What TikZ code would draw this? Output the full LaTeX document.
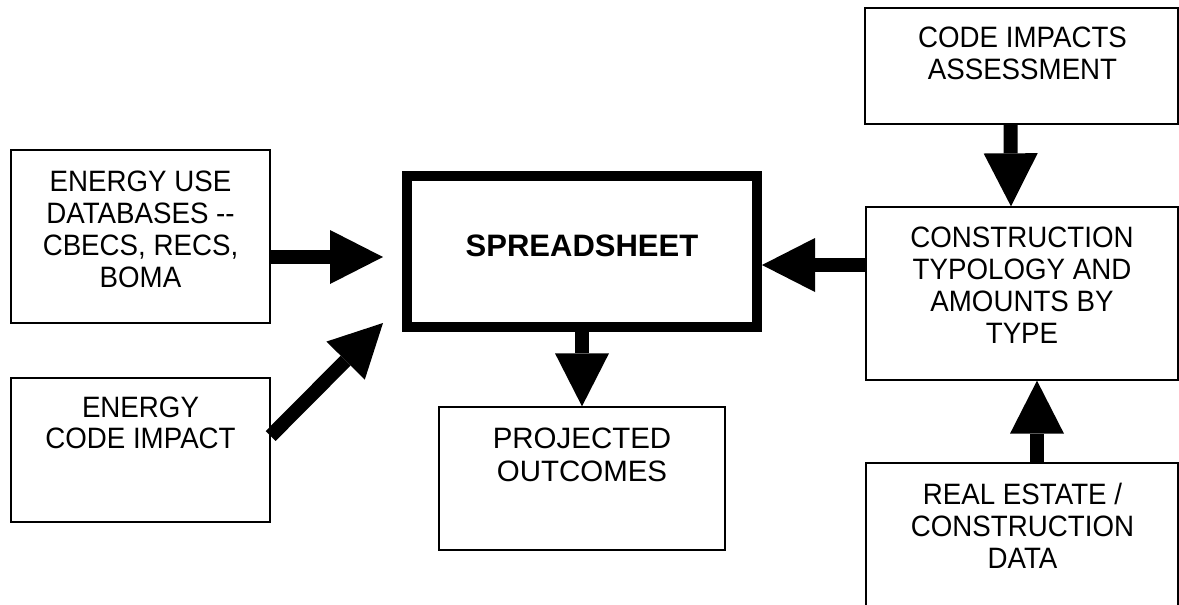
\documentclass[tikz,border=0pt]{standalone}
\usepackage{fontspec}
\setmainfont{Liberation Sans}
\newfontfamily\condfont[FakeStretch=0.94]{Liberation Sans}
\usetikzlibrary{arrows.meta,calc}
\begin{document}
\begin{tikzpicture}[x=0.75pt,y=-0.75pt,
  box/.style={draw, line width=1pt, rectangle, inner sep=0pt},
  txt/.style={anchor=north, inner sep=0pt, align=center, font=\condfont\fontsize{22.1}{24}\selectfont},
  fat/.style={line width=10.5pt, -{Triangle[length=39.75pt,width=40.5pt,line width=0pt]}}]
\path[use as bounding box, fill=white] (0,0) rectangle (1179,604);

% boxes
\node[box, minimum width=259*0.75pt, minimum height=173*0.75pt] (eu) at (140.5,236.5) {};
\node[txt] (eut) at (140.5,170.5) {ENERGY USE\\DATABASES -{}-\\CBECS, RECS,\\BOMA};

\node[box, minimum width=259*0.75pt, minimum height=144*0.75pt] (ec) at (140.5,450) {};
\node[txt, font=\condfont\fontsize{22.1}{23.3}\selectfont] (ect) at (140.5,396.5) {ENERGY\\CODE IMPACT};

\node[box, line width=7.5pt, minimum width=350*0.75pt, minimum height=151*0.75pt] (ss) at (582,251.5) {};
\node[anchor=north, inner sep=0pt, font=\bfseries\fontsize{23.25}{28}\selectfont] (sst) at (582,234.7) {SPREADSHEET};

\node[box, minimum width=286*0.75pt, minimum height=143*0.75pt] (pr) at (582,478.5) {};
\node[txt, font=\fontsize{22.1}{24.75}\selectfont] (prt) at (582,427.5) {PROJECTED\\OUTCOMES};

\node[box, minimum width=313*0.75pt, minimum height=116*0.75pt] (ci) at (1021.5,66) {};
\node[txt] (cit) at (1022.5,26.8) {CODE IMPACTS\\ASSESSMENT};

\node[box, minimum width=312*0.75pt, minimum height=173*0.75pt] (co) at (1022,293.5) {};
\node[txt] (cot) at (1022,226.8) {CONSTRUCTION\\TYPOLOGY AND\\AMOUNTS BY\\TYPE};

\node[box, minimum width=312*0.75pt, minimum height=180*0.75pt] (re) at (1022,553) {};
\node[txt] (ret) at (1022.5,482.8) {REAL ESTATE /\\CONSTRUCTION\\DATA};

% connectors
\coordinate (a1) at (383,257);
\draw[fat] (eu.east |- a1) -- (a1);
\coordinate (a2) at (383,323);
\draw[fat] ($(ec.east)+(0,-14)$) -- (a2);
\draw[fat] (ss.south) -- (pr.north);
\coordinate (a4) at ($(ss.east)+(0,13.5)$);
\draw[fat] (co.west |- a4) -- (a4);
\draw[fat] ($(ci.south)+(-11,0)$) -- ($(co.north)+(-11,0)$);
\draw[fat] ($(re.north)+(15,0)$) -- ($(co.south)+(15,0)$);
\end{tikzpicture}
\end{document}
